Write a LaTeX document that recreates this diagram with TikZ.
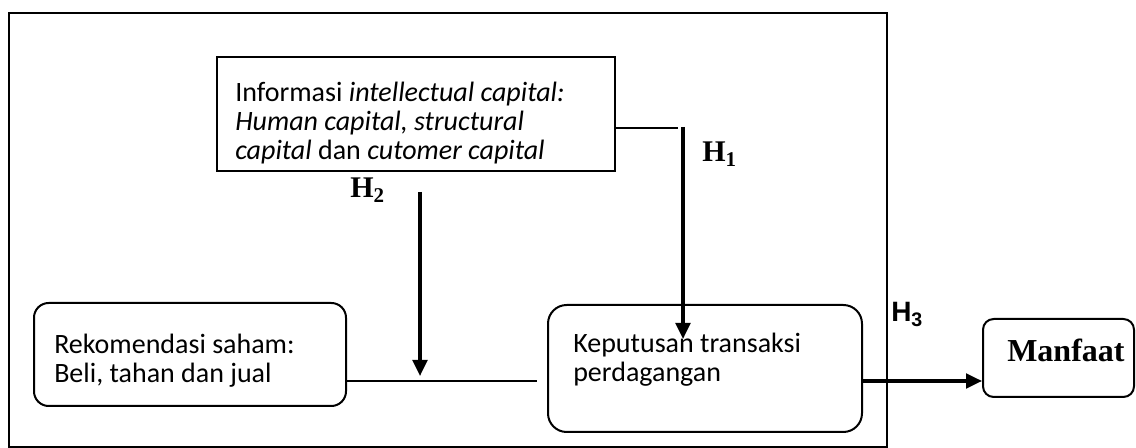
\documentclass[tikz,border=0pt]{standalone}
\usepackage{fontspec}
\setmainfont{Carlito}
\newfontfamily\timesf{Liberation Serif}
\newfontfamily\arialf{Liberation Sans}
\usetikzlibrary{arrows.meta}
\begin{document}
\begin{tikzpicture}[x=0.75pt,y=-0.75pt,
  box/.style={draw, line width=1.5pt, inner sep=0, anchor=north west},
  rbox/.style={box, rounded corners=11pt},
  txt/.style={inner sep=0, anchor=north west, align=left, font=\fontsize{21}{21.75}\selectfont},
  hlab/.style={inner sep=0, anchor=base west, font=\timesf\bfseries\fontsize{22.5}{24}\selectfont},
  thinline/.style={line width=1.1pt},
  arr/.style={line width=2.4pt, -{Triangle[length=12pt,width=11pt]}},
]
\path[use as bounding box] (0,0) rectangle (1136,448);
% outer frame
\node[box, minimum width=658.5pt, minimum height=325.5pt] (frame) at (8,12) {};
% boxes
\node[box, minimum width=298.5pt, minimum height=85.5pt] (info) at (216,56) {};
\node[rbox, minimum width=234pt, minimum height=77.25pt] (rek) at (33,302) {};
\node[rbox, rounded corners=14pt, minimum width=235.5pt, minimum height=95.25pt] (kep) at (547,304) {};
\node[rbox, rounded corners=8pt, minimum width=113.25pt, minimum height=58.5pt] (manfaat) at (982,318) {};
% texts
\node[txt] (infotext) at (235,82) {Informasi \textit{intellectual capital:}\\\textit{Human capital, structural}\\\textit{capital} dan \textit{cutomer capital}};
\node[txt] (rektext) at (54,334) {Rekomendasi saham:\\Beli, tahan dan jual};
\node[txt] (keptext) at (573,333) {Keputusan transaksi\\perdagangan};
\node[inner sep=0, anchor=base west, font=\timesf\bfseries\fontsize{24}{26}\selectfont] (mantext) at (1007,362) {Manfaat};
% labels
\node[hlab] (h1) at (702,162) {H\textsubscript{1}};
\node[hlab] (h2) at (350,198) {H\textsubscript{2}};
\node[inner sep=0, anchor=base west, font=\arialf\bfseries\fontsize{21}{23}\selectfont] (h3) at (891,322) {H\textsubscript{3}};
% connectors
\coordinate (h1turn) at (678,128);
\coordinate (h1start) at (683,127);
\coordinate (h1end) at (683,339);
\draw[thinline] (info.east |- h1turn) -- (h1turn);
\draw[arr] (h1start) -- (h1end);
\coordinate (h2start) at (420,192);
\coordinate (h2end) at (420,376);
\draw[arr] (h2start) -- (h2end);
\coordinate (joinend) at (537,381);
\draw[thinline] (rek.east |- joinend) -- (joinend);
\draw[arr] (kep.east |- joinend) -- (manfaat.west |- joinend);
\end{tikzpicture}
\end{document}
